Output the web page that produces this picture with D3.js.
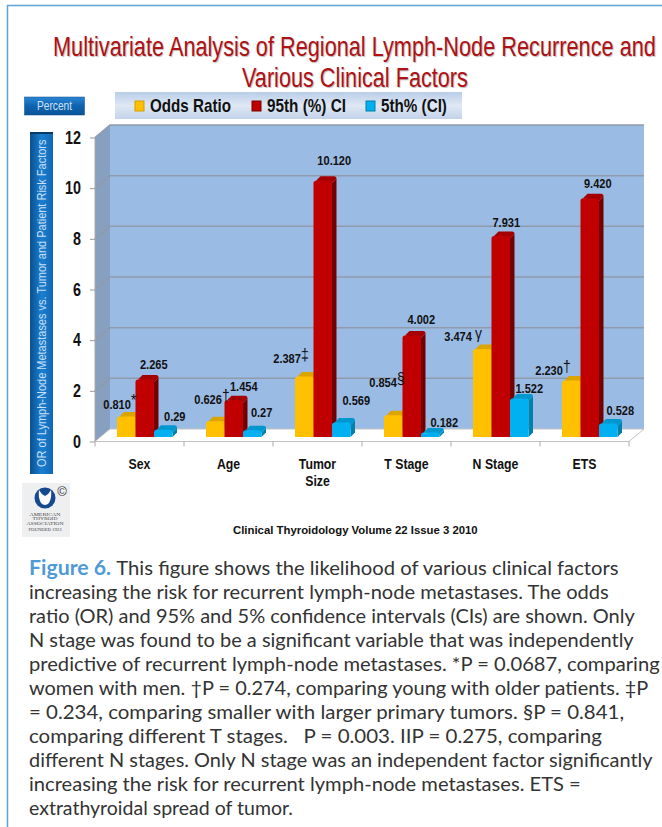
<!DOCTYPE html>
<html>
<head>
<meta charset="utf-8">
<script src="https://cdn.jsdelivr.net/npm/d3@7"></script>
<style>
  html, body { margin: 0; padding: 0; background: #fff; }
  svg { display: block; }
</style>
</head>
<body>
<div id="chart"></div>
<script>
// Values
const categories = ["Sex", "Age", "Tumor Size", "T Stage", "N Stage", "ETS"];
const oddsRatio = [0.810, 0.626, 2.387, 0.854, 3.474, 2.230];
const ci95 = [2.265, 1.454, 10.120, 4.002, 7.931, 9.420];
const ci5 = [0.29, 0.27, 0.569, 0.182, 1.522, 0.528];
const valueLabels5 = ["0.29", "0.27", "0.569", "0.182", "1.522", "0.528"];
const oddsMarks = ["*", "†", "‡", "§", "γ", "†"];
const yTicks = [0, 2, 4, 6, 8, 10, 12];

const titleLines = [
    "Multivariate Analysis of Regional Lymph-Node Recurrence and",
    "Various Clinical Factors"
];
const captionLines = [
    "This figure shows the likelihood of various clinical factors",
    "increasing the risk for recurrent lymph-node metastases. The odds",
    "ratio (OR) and 95% and 5% confidence intervals (CIs) are shown. Only",
    "N stage was found to be a significant variable that was independently",
    "predictive of recurrent lymph-node metastases.  *P = 0.0687, comparing",
    "women with men. †P = 0.274, comparing young with older patients. ‡P",
    "= 0.234, comparing smaller with larger primary tumors. §P = 0.841,",
    "comparing different T stages.\u00a0\u00a0\u00a0P = 0.003. IIP = 0.275, comparing",
    "different N stages. Only N stage was an independent factor significantly",
    "increasing the risk for recurrent lymph-node metastases. ETS =",
    "extrathyroidal spread of tumor."
];
// right end of each caption line, so the lines break as in the print
const captionEnds = [619, 609, 635, 634, 660, 649, 624.5, 602, 653, 581, 293];

// Label nudges from the top of each bar
const oddsNudge = [[-23, -12.6], [-21, -22], [-31, -19], [-24, -33.5], [-38, -12.5], [-36, -11]];
const ci95Nudge = [[9, -16], [10, -14], [11.5, -21], [9.5, -17], [5.5, -14], [8, -15.6]];
const ci5Nudge = [[11.5, -13.7], [9.4, -18], [15, -22.7], [14, -10.4], [10, -10.6], [12, -13.7]];

const sans = "'Liberation Sans', Arial, sans-serif";
const width = 662, height = 827;

// No narrow face is installed, so scale the regular one horizontally.
// k is a factor; fitWidth works the factor out from the width wanted.
function squeeze(sel, k) {
    sel.each(function(d, i) {
        const f = typeof k === "function" ? k.call(this, d, i) : k;
        const px = +this.getAttribute("x") || 0, py = +this.getAttribute("y") || 0;
        this.setAttribute("x", 0);
        this.setAttribute("y", 0);
        this.setAttribute("transform", `translate(${px},${py}) scale(${f},1)`);
    });
}
function fitWidth(sel, w) {
    sel.call(squeeze, function(d, i) {
        return (typeof w === "function" ? w(d, i) : w) / this.getComputedTextLength();
    });
}

const svg = d3.select("#chart").append("svg")
    .attr("width", width)
    .attr("height", height);

const defs = svg.append("defs");
function vGradient(id, stops) {
    const g = defs.append("linearGradient").attr("id", id)
        .attr("x1", 0).attr("y1", 0).attr("x2", 0).attr("y2", 1);
    stops.forEach((c, i) => g.append("stop")
        .attr("offset", i / (stops.length - 1)).attr("stop-color", c));
}
function hGradient(id, stops) {
    const g = defs.append("linearGradient").attr("id", id)
        .attr("x1", 0).attr("y1", 0).attr("x2", 1).attr("y2", 0);
    stops.forEach((c, i) => g.append("stop")
        .attr("offset", i / (stops.length - 1)).attr("stop-color", c));
}
vGradient("legendBg", ["#b9cde8", "#dfe8f4", "#c3d3ea"]);
vGradient("btnBg", ["#2b86d4", "#0e63b0", "#0b5599"]);
hGradient("axisBg", ["#0b4f8f", "#1a7fd0", "#0f68b5"]);

// Page frame
svg.append("line").attr("x1", 7.5).attr("x2", 7.5).attr("y1", 5).attr("y2", height)
    .attr("stroke", "#5ba3d9").attr("stroke-width", 1.5);
svg.append("line").attr("x1", 7).attr("x2", width).attr("y1", 5.5).attr("y2", 5.5)
    .attr("stroke", "#5ba3d9").attr("stroke-width", 1.5);

// Title
const titleSpans = [[53, 656, 56], [242, 468, 87]];
svg.selectAll(".title")
    .data(titleLines)
    .join("text")
    .attr("class", "title")
    .attr("x", (d, i) => titleSpans[i][0])
    .attr("y", (d, i) => titleSpans[i][2])
    .attr("font-family", sans)
    .attr("font-size", 27)
    .attr("fill", "#b01116")
    .style("text-shadow", "1px 1px 1px #bbb")
    .text(d => d)
    .call(fitWidth, (d, i) => titleSpans[i][1] - titleSpans[i][0]);

// Percent button
svg.append("rect").attr("x", 24.5).attr("y", 97).attr("width", 60).attr("height", 18)
    .attr("fill", "url(#btnBg)").attr("stroke", "#0a4a85").attr("stroke-width", 0.5);
svg.append("text").attr("x", 54.5).attr("y", 110).attr("text-anchor", "middle")
    .attr("font-family", sans).attr("font-size", 12).attr("fill", "#cfe3f5")
    .text("Percent")
    .call(squeeze, 0.85);

// Legend
const legendItems = [
    { name: "Odds Ratio", color: "#ffc000", edge: "#d99a00", x: 135, textX: 150, textW: 81 },
    { name: "95th (%) CI", color: "#c00000", edge: "#7a0000", x: 252, textX: 267, textW: 79 },
    { name: "5th% (CI)", color: "#00b0f0", edge: "#007fa8", x: 366, textX: 381, textW: 66 }
];
svg.append("rect").attr("x", 115).attr("y", 92).attr("width", 347).attr("height", 27)
    .attr("fill", "url(#legendBg)");
const legend = svg.selectAll(".legend").data(legendItems).join("g").attr("class", "legend");
legend.append("rect")
    .attr("x", d => d.x).attr("y", 101).attr("width", 9).attr("height", 10)
    .attr("fill", d => d.color).attr("stroke", d => d.edge).attr("stroke-width", 1);
legend.append("text")
    .attr("x", d => d.textX).attr("y", 112)
    .attr("font-family", sans).attr("font-weight", "bold").attr("font-size", 18)
    .attr("fill", "#111")
    .text(d => d.name)
    .call(fitWidth, d => d.textW);

// Y axis title bar
svg.append("rect").attr("x", 30).attr("y", 132).attr("width", 23).attr("height", 342)
    .attr("fill", "url(#axisBg)");
svg.append("rect").attr("x", 30).attr("y", 132).attr("width", 23).attr("height", 2)
    .attr("fill", "#083a68");
const axisTitle = svg.append("text")
    .attr("font-family", sans).attr("font-size", 13.5)
    .attr("fill", "#c9def2")
    .text("OR  of Lymph-Node Metastases vs.  Tumor and Patient Risk Factors");
axisTitle.attr("transform", `translate(46,467) rotate(-90) scale(${328 / axisTitle.node().getComputedTextLength()},1)`);

// Scales (front edge of the floor)
const x = d3.scaleBand().domain(categories).range([95, 629]);
const y = d3.scaleLinear().domain([0, 12]).range([441.5, 137.5]);
const depthX = 15, depthY = -12.5;   // wall offset from the front edge

// Side wall, back wall, floor
const plot = svg.append("g");
plot.append("path")
    .attr("d", `M${x.range()[0]},${y(0)}L${x.range()[0] + depthX},${y(0) + depthY}L${x.range()[0] + depthX},${y(12) + depthY}L${x.range()[0]},${y(12)}Z`)
    .attr("fill", "#88a0bf");
plot.append("rect")
    .attr("x", x.range()[0] + depthX).attr("y", y(12) + depthY)
    .attr("width", x.range()[1] - x.range()[0]).attr("height", y(0) - y(12))
    .attr("fill", "#9abbe4");
plot.append("path")
    .attr("d", `M${x.range()[0]},${y(0)}L${x.range()[0] + depthX},${y(0) + depthY}L${x.range()[1] + depthX},${y(0) + depthY}L${x.range()[1]},${y(0)}Z`)
    .attr("fill", "#fff").attr("stroke", "#c2c2c2").attr("stroke-width", 1);

// Gridlines wrap from the axis over the side wall and along the back
plot.selectAll(".grid")
    .data(yTicks.filter(d => d > 0))
    .join("path")
    .attr("class", "grid")
    .attr("d", d => `M${x.range()[0]},${y(d)}L${x.range()[0] + depthX},${y(d) + depthY}L${x.range()[1] + depthX},${y(d) + depthY}`)
    .attr("fill", "none").attr("stroke", "#8f9bab").attr("stroke-width", 1.5);
plot.append("line")
    .attr("x1", x.range()[0]).attr("x2", x.range()[0])
    .attr("y1", y(12)).attr("y2", y(0))
    .attr("stroke", "#a9a9a9");

// Axes
const yAxis = d3.axisLeft(y).tickValues(yTicks).tickSize(5).tickPadding(9).tickFormat(d3.format("d"));
const gy = svg.append("g").attr("transform", `translate(${x.range()[0]},0)`).call(yAxis);
gy.select(".domain").remove();
gy.selectAll("line").attr("stroke", "#999");
gy.selectAll("text")
    .attr("font-family", sans).attr("font-weight", "bold").attr("font-size", 17.5)
    .attr("fill", "#111")
    .call(squeeze, 0.82);

const tickEdges = categories.map(c => x(c)).concat(x.range()[1]);
svg.selectAll(".xtick").data(tickEdges).join("line")
    .attr("class", "xtick")
    .attr("x1", d => d).attr("x2", d => d)
    .attr("y1", y(0)).attr("y2", y(0) + 5)
    .attr("stroke", "#aaa");

// "Tumor Size" wraps on two rows
const catRows = categories.flatMap(c => (c === "Tumor Size" ? ["Tumor", "Size"] : [c])
    .map((word, row) => ({ cat: c, word, row })));
svg.selectAll(".cat")
    .data(catRows)
    .join("text")
    .attr("class", "cat")
    .attr("x", d => x(d.cat) + x.bandwidth() / 2)
    .attr("y", d => 469 + d.row * 17)
    .attr("text-anchor", "middle")
    .attr("font-family", sans).attr("font-weight", "bold").attr("font-size", 15)
    .attr("fill", "#111")
    .text(d => d.word)
    .call(squeeze, 0.82);

// Bars
const barW = 18.5, barLeft = 22, barDX = 4.5, barDY = -4.5;
const seriesList = [
    { values: oddsRatio, front: "#ffc000", side: "#c98f00", top: "#dba500" },
    { values: ci95, front: "#c00000", side: "#720000", top: "#a50000" },
    { values: ci5, front: "#00b0f0", side: "#0080aa", top: "#0097cf" }
];
function barX(i, s) { return x(categories[i]) + barLeft + s * barW; }
function barY(v) { return y(v) + barDY; }

categories.forEach((c, i) => {
    seriesList.forEach((s, k) => {
        const v = s.values[i], x0 = barX(i, k), x1 = x0 + barW, t = barY(v), b = barY(0);
        const r = Math.min(2.5, (b - t) / 2);
        const g = svg.append("g").attr("class", "bar");
        // side face
        g.append("path")
            .attr("d", `M${x1},${b}L${x1 + barDX},${b + barDY}L${x1 + barDX},${t + barDY + r}L${x1},${t + r}Z`)
            .attr("fill", s.side);
        // top face
        g.append("path")
            .attr("d", `M${x0 + r},${t}L${x0 + barDX + r},${t + barDY}L${x1 + barDX - r},${t + barDY}Q${x1 + barDX},${t + barDY} ${x1 + barDX},${t + barDY + r}L${x1},${t + r}Z`)
            .attr("fill", s.top);
        // front face with rounded top
        g.append("path")
            .attr("d", `M${x0},${b}L${x0},${t + r}Q${x0},${t} ${x0 + r},${t}L${x1 - r},${t}Q${x1},${t} ${x1},${t + r}L${x1},${b}Z`)
            .attr("fill", s.front);
    });
});

// Value labels
const labelFont = sel => sel
    .attr("font-family", sans).attr("font-weight", "bold").attr("font-size", 13.5)
    .attr("fill", "#111");

svg.selectAll(".odds").data(oddsRatio).join("text")
    .attr("class", "odds")
    .attr("x", (d, i) => barX(i, 0) + barW / 2 + oddsNudge[i][0])
    .attr("y", (d, i) => barY(d) + oddsNudge[i][1] + 5)
    .call(labelFont)
    .each(function(d, i) {
        const t = d3.select(this);
        t.append("tspan").text(d.toFixed(3) + (oddsMarks[i] === "γ" ? " " : ""));
        t.append("tspan")
            .attr("dy", -3)
            .attr("font-size", 17).attr("font-weight", "normal")
            .text(oddsMarks[i]);
    })
    .call(squeeze, 0.82);

svg.selectAll(".ci95").data(ci95).join("text")
    .attr("class", "ci95")
    .attr("x", (d, i) => barX(i, 1) + barW / 2 + ci95Nudge[i][0])
    .attr("y", (d, i) => barY(d) + ci95Nudge[i][1] + 5)
    .attr("text-anchor", "middle")
    .call(labelFont)
    .text(d => d.toFixed(3))
    .call(squeeze, 0.82);

svg.selectAll(".ci5").data(ci5).join("text")
    .attr("class", "ci5")
    .attr("x", (d, i) => barX(i, 2) + barW / 2 + ci5Nudge[i][0])
    .attr("y", (d, i) => barY(d) + ci5Nudge[i][1] + 5)
    .attr("text-anchor", "middle")
    .call(labelFont)
    .text((d, i) => valueLabels5[i])
    .call(squeeze, 0.82);

// Society logo
const logoLines = [
    { text: "AMERICAN", y: 515.5, w: 31, size: 4.4 },
    { text: "THYROID", y: 520, w: 25, size: 4.4 },
    { text: "ASSOCIATION", y: 524.5, w: 37, size: 4.4 },
    { text: "FOUNDED 1923", y: 531, w: 33, size: 3.4 }
];
const logo = svg.append("g");
logo.append("rect").attr("x", 22).attr("y", 483).attr("width", 48).attr("height", 54).attr("fill", "#eeeff1");
logo.append("circle").attr("cx", 45).attr("cy", 498).attr("r", 10.5).attr("fill", "#17498f");
logo.append("path")
    .attr("d", "M39,490Q38,498 41,503Q45,507 49,503Q52,498 51,490Q49,494 45,496Q41,494 39,490Z")
    .attr("fill", "#fff");
logo.append("text").attr("x", 62).attr("y", 496).attr("text-anchor", "middle")
    .attr("font-family", sans).attr("font-size", 13).attr("fill", "#333")
    .text("©");
logo.selectAll(".logo-line").data(logoLines).join("text")
    .attr("class", "logo-line")
    .attr("x", 45).attr("y", d => d.y)
    .attr("text-anchor", "middle")
    .attr("font-family", "'Liberation Serif', serif")
    .attr("font-size", d => d.size)
    .attr("fill", "#444")
    .text(d => d.text)
    .call(fitWidth, d => d.w);

// Footer line
svg.append("text")
    .attr("x", 233).attr("y", 534)
    .attr("font-family", sans).attr("font-weight", "bold").attr("font-size", 11)
    .attr("fill", "#111")
    .text("Clinical Thyroidology Volume 22 Issue 3 2010")
    .call(fitWidth, 245);

// Caption
svg.selectAll(".caption")
    .data(captionLines)
    .join("text")
    .attr("class", "caption")
    .attr("x", 29)
    .attr("y", (d, i) => 574.5 + i * 24)
    .attr("font-family", "Lato, 'Open Sans', sans-serif")
    .attr("font-size", 19.5)
    .attr("fill", "#333")
    .each(function(d, i) {
        const t = d3.select(this);
        if (i === 0) {
            t.append("tspan").attr("font-weight", "bold").attr("font-size", 20.5).attr("fill", "#4f9ad6").text("Figure 6. ");
        }
        t.append("tspan").text(d);
    })
    .call(fitWidth, (d, i) => captionEnds[i] - 29);
</script>
</body>
</html>
